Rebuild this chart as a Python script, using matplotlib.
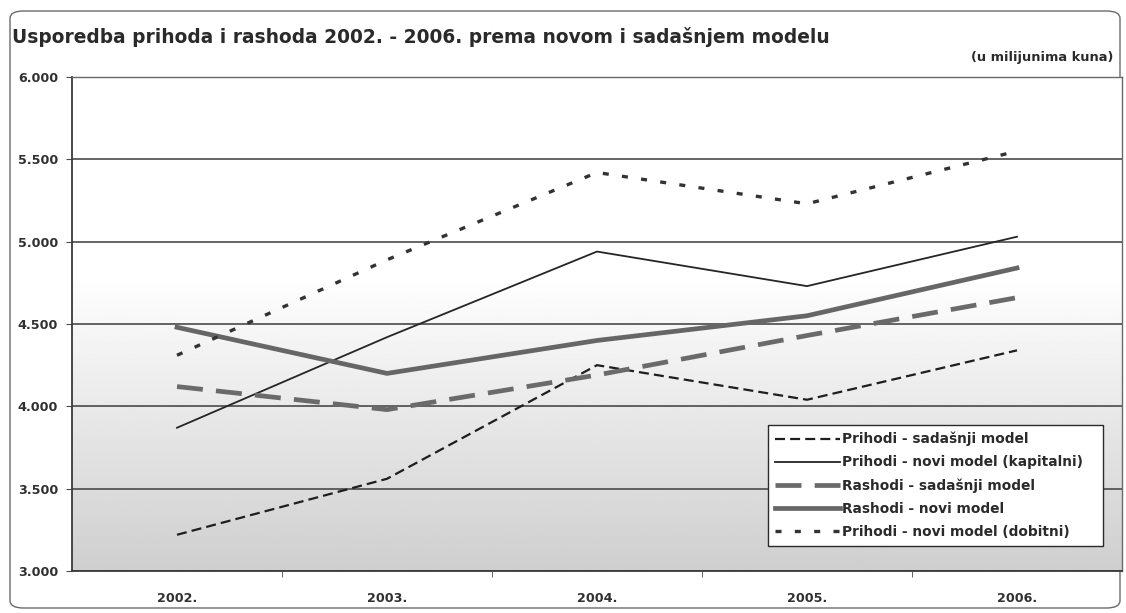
import numpy as np
import matplotlib
matplotlib.use("Agg")
import matplotlib.pyplot as plt
from matplotlib.ticker import FuncFormatter, FixedLocator
from matplotlib.patches import FancyBboxPatch

plt.rcParams['font.family'] = ['DejaVu Sans']

years = ["2002.", "2003.", "2004.", "2005.", "2006."]

prihodi_sadasnji = [3220, 3560, 4250, 4040, 4340]
prihodi_kapitalni = [3870, 4420, 4940, 4730, 5030]
rashodi_sadasnji = [4120, 3980, 4190, 4430, 4660]
rashodi_novi = [4480, 4200, 4400, 4550, 4840]
prihodi_dobitni = [4310, 4890, 5420, 5230, 5550]

series_labels = [
    "Prihodi - sadašnji model",
    "Prihodi - novi model (kapitalni)",
    "Rashodi - sadašnji model",
    "Rashodi - novi model",
    "Prihodi - novi model (dobitni)",
]

title = "Usporedba prihoda i rashoda 2002. - 2006. prema novom i sadašnjem modelu"
unit_note = "(u milijunima kuna)"

fig = plt.figure(figsize=(11.26, 6.13), dpi=100)
fig.patch.set_facecolor("white")

# rounded chart-area frame
frame = FancyBboxPatch((10 / 1126, 5 / 613), 1110 / 1126, 597 / 613,
                       boxstyle="round,pad=0,rounding_size=0.012",
                       transform=fig.transFigure, facecolor="none",
                       edgecolor="#6a6a6a", linewidth=1.0, zorder=-1)
fig.patches.append(frame)

ax = fig.add_axes([72 / 1126, 1 - 571 / 613, 1050 / 1126, 494 / 613])
ax.set_zorder(2)
ax.set_facecolor("none")

x = np.arange(len(years))
ymin, ymax = 3000, 6000
ax.set_xlim(-0.5, len(years) - 0.5)
ax.set_ylim(ymin, ymax)

# vertical grey-to-white background gradient
yy = np.linspace(ymin, ymax, 300)
shade = np.clip(0.81 + (yy - ymin) / (4800 - ymin) * 0.19, 0, 1)
grad = np.repeat(shade[:, None], 2, axis=1)
ax.imshow(grad, cmap="gray", vmin=0, vmax=1, origin="lower",
          extent=(-0.5, len(years) - 0.5, ymin, ymax),
          aspect="auto", zorder=0, interpolation="bilinear")

ax.yaxis.set_major_locator(FixedLocator(np.arange(3000, 6001, 500)))
ax.yaxis.set_major_formatter(FuncFormatter(lambda v, p: f"{int(v):,}".replace(",", ".")))
ax.grid(axis="y", color="#4a4a4a", linewidth=1.2, zorder=1)
ax.set_axisbelow(True)

ax.set_xticks(x)
ax.set_xticklabels(years)
ax.set_xticks(np.arange(0.5, len(years) - 0.5, 1), minor=True)
ax.tick_params(axis="x", which="major", length=0, pad=15)
ax.tick_params(axis="x", which="minor", length=4, color="#4a4a4a")
ax.tick_params(axis="y", length=4, color="#4a4a4a", pad=6)
for lab in ax.get_xticklabels() + ax.get_yticklabels():
    lab.set_fontweight("bold")
    lab.set_fontsize(9.2)
    lab.set_color("#303030")

for side in ["left", "bottom"]:
    ax.spines[side].set_color("#3a3a3a")
    ax.spines[side].set_linewidth(1.3)
for side in ["top", "right"]:
    ax.spines[side].set_color("#6a6a6a")
    ax.spines[side].set_linewidth(1.0)

l1, = ax.plot(x, prihodi_sadasnji, color="#1e1e1e", linewidth=1.6,
              linestyle=(0, (4.5, 2.3)), zorder=3)
l2, = ax.plot(x, prihodi_kapitalni, color="#252525", linewidth=1.3,
              linestyle="-", zorder=3)
l3, = ax.plot(x, rashodi_sadasnji, color="#6a6a6a", linewidth=3.4,
              linestyle=(0, (5.5, 2.8)), zorder=3)
l4, = ax.plot(x, rashodi_novi, color="#666666", linewidth=3.4,
              linestyle="-", zorder=3)
l5, = ax.plot(x, prihodi_dobitni, color="#333333", linewidth=2.4,
              linestyle=(0, (1.8, 4.0)), zorder=3)

leg = ax.legend([l1, l2, l3, l4, l5], series_labels,
                loc="upper left", bbox_to_anchor=(0.663, 0.05, 0.319, 0.2455),
                mode="expand",
                borderaxespad=0, frameon=True, fancybox=False,
                handlelength=4.7, handletextpad=0.15, labelspacing=0.66,
                borderpad=0.5,
                prop={"weight": "bold", "size": 9.9})
leg.get_frame().set_edgecolor("#2a2a2a")
leg.get_frame().set_linewidth(1.0)
leg.get_frame().set_facecolor("white")
leg.get_frame().set_alpha(1)
for t in leg.get_texts():
    t.set_color("#2a2a2a")

fig.text(12 / 1126, 1 - 37 / 613, title, fontsize=13.4, fontweight="bold",
         color="#2a2a2a", ha="left", va="center")
fig.text(1113 / 1126, 1 - 57 / 613, unit_note, fontsize=9.4, fontweight="bold",
         color="#2a2a2a", ha="right", va="center")

fig.savefig("out.png", dpi=100)
